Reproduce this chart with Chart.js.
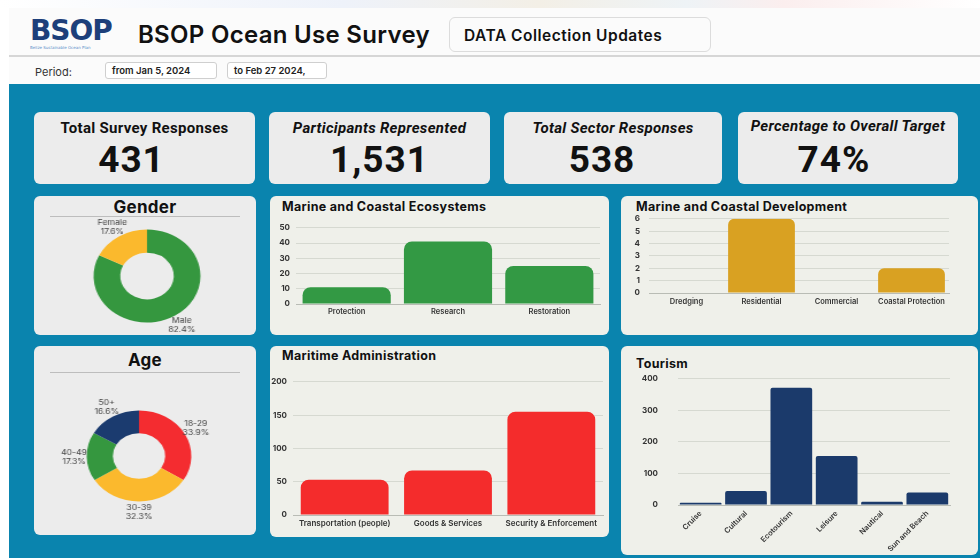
<!DOCTYPE html>
<html>
<head>
<meta charset="utf-8">
<script src="https://cdn.jsdelivr.net/npm/chart.js@4.4.1/dist/chart.umd.min.js"></script>
<style>
  * { box-sizing: border-box; }
  body { margin: 0; width: 980px; height: 558px; overflow: hidden; background: #fff; font-family: "Inter", "Lato", sans-serif; position: relative; }
  .abs { position: absolute; }
  .banner { left: 0; top: 0; width: 980px; height: 8px; background: linear-gradient(90deg, #fff 0%, #eef2fa 35%, #f3efe6 55%, #eef3f6 70%, #fbeeee 80%, #fff 100%); }
  .header { left: 9px; top: 8px; width: 971px; height: 76px; background: #fbfbfb; }
  .hline { left: 9px; top: 55px; width: 971px; height: 2px; background: #d6d6d6; }
  .logo { left: 30px; top: 16px; width: 84px; height: 38px; }
  .logo .big { font: 900 28px "DejaVu Sans", sans-serif; color: #1d3f7a; letter-spacing: -1px; line-height: 29px; }
  .logo .small { font: 4px "DejaVu Sans", sans-serif; color: #5b8fc9; }
  .title { left: 138px; top: 20px; font: 600 24px "Inter", sans-serif; color: #111; letter-spacing: 0.3px; }
  .updbox { left: 449px; top: 17px; width: 262px; height: 35px; border: 1px solid #dcdcdc; border-radius: 6px; background: #fbfbfb; font: 600 15.5px "Inter", sans-serif; color: #111; padding: 8px 0 0 14px; letter-spacing: 0.5px; }
  .period { left: 35px; top: 65px; font: 11px "Inter", sans-serif; color: #333; }
  .pbox { top: 62px; height: 17px; border: 1px solid #cfcfcf; border-radius: 3px; font: 600 9.5px "Inter", sans-serif; color: #222; padding: 2px 0 0 6px; background: #fff; }
  .blue { left: 9px; top: 84px; width: 971px; height: 474px; background: #0a84ae; }
  .card { border-radius: 6px; background: #ececec; }
  .gcard { background: #eff0ea; }
  .kpil { font: 700 15px "Roboto", sans-serif; color: #111; text-align: center; width: 100%; position: absolute; top: 7px; letter-spacing: 0.3px; }
  .kpiv { font: 700 37px "Roboto", sans-serif; color: #111; text-align: center; width: 100%; position: absolute; top: 26px; letter-spacing: 1px; }
  .ctitle { font: 700 12.5px "Inter", sans-serif; color: #111; position: absolute; letter-spacing: 0.3px; }
  .dtitle { font: 700 17px "Inter", sans-serif; color: #111; text-align: center; width: 100%; position: absolute; letter-spacing: 0.3px; }
  .dline { position: absolute; left: 16px; right: 16px; height: 1px; background: #bdbdbd; }
  canvas { position: absolute; }
  .stretch { position: absolute; transform: scaleX(1.15); transform-origin: center; }
</style>
</head>
<body>
<div class="abs banner"></div>
<div class="abs header"></div>
<div class="abs hline"></div>
<div class="abs logo"><div class="big">BSOP</div><div class="small">Belize Sustainable Ocean Plan</div></div>
<div class="abs title">BSOP Ocean Use Survey</div>
<div class="abs updbox">DATA Collection Updates</div>
<div class="abs period">Period:</div>
<div class="abs pbox" style="left:105px;width:112px;">from Jan 5, 2024</div>
<div class="abs pbox" style="left:227px;width:100px;">to Feb 27 2024,</div>
<div class="abs blue"></div>

<div class="abs card" style="left:34px;top:112px;width:221px;height:72px;"><div class="kpil">Total Survey Responses</div><div class="kpiv" style="left:-13px">431</div></div>
<div class="abs card" style="left:269px;top:112px;width:221px;height:72px;"><div class="kpil" style="font-style:italic">Participants Represented</div><div class="kpiv">1,531</div></div>
<div class="abs card" style="left:504px;top:112px;width:218px;height:72px;"><div class="kpil" style="font-style:italic">Total Sector Responses</div><div class="kpiv" style="left:-11px">538</div></div>
<div class="abs card" style="left:738px;top:112px;width:220px;height:72px;"><div class="kpil" style="font-style:italic;top:5px">Percentage to Overall Target</div><div class="kpiv" style="left:-14px">74%</div></div>

<div class="abs card" style="left:34px;top:196px;width:222px;height:139px;"><div class="dtitle" style="top:1px">Gender</div><div class="dline" style="top:20px"></div></div>
<div class="abs card" style="left:34px;top:346px;width:222px;height:189px;"><div class="dtitle" style="top:4px">Age</div><div class="dline" style="top:26px"></div></div>

<div class="abs card gcard" style="left:270px;top:196px;width:339px;height:139px;"><div class="ctitle" style="left:12px;top:3px">Marine and Coastal Ecosystems</div></div>
<div class="abs card gcard" style="left:621px;top:196px;width:357px;height:139px;"><div class="ctitle" style="left:15px;top:3px">Marine and Coastal Development</div></div>
<div class="abs card gcard" style="left:270px;top:346px;width:339px;height:191px;"><div class="ctitle" style="left:12px;top:2px">Maritime Administration</div></div>
<div class="abs card gcard" style="left:621px;top:346px;width:357px;height:209px;"><div class="ctitle" style="left:15px;top:10px">Tourism</div></div>

<div class="stretch" style="left:57px;top:211px;width:180px;height:130px;"><canvas id="gender" width="180" height="130" style="left:0;top:0;"></canvas></div>
<div class="stretch" style="left:49px;top:386px;width:180px;height:140px;"><canvas id="age" width="180" height="140" style="left:0;top:0;"></canvas></div>
<canvas id="eco" width="330" height="103" style="left:276px;top:217px;"></canvas>
<canvas id="dev" width="340" height="102" style="left:632px;top:205px;"></canvas>
<canvas id="admin" width="338" height="160" style="left:270px;top:371px;"></canvas>
<canvas id="tourism" width="330" height="197" style="left:630px;top:354px;"></canvas>

<script>
const genderLabels = ['Male', 'Female'];
const genderValues = [82.4, 17.6];
const ageLabels = ['18-29', '30-39', '40-49', '50+'];
const ageValues = [33.9, 32.3, 17.3, 16.6];
const ecoLabels = ['Protection', 'Research', 'Restoration'];
const ecoValues = [11, 41, 25];
const devLabels = ['Dredging', 'Residential', 'Commercial', 'Coastal Protection'];
const devValues = [0, 6, 0, 2];
const adminLabels = ['Transportation (people)', 'Goods & Services', 'Security & Enforcement'];
const adminValues = [53, 67, 155];
const tourismLabels = ['Cruise', 'Cultural', 'Ecotourism', 'Leisure', 'Nautical', 'Sun and Beach'];
const tourismValues = [7, 44, 372, 155, 10, 40];

Chart.defaults.font.family = 'Inter, Lato, sans-serif';
Chart.defaults.color = '#222';

// labels drawn outside each donut slice
const outsideLabels = {
    id: 'outsideLabels',
    afterDatasetsDraw(chart, args, opts) {
        const ctx = chart.ctx;
        const meta = chart.getDatasetMeta(0);
        ctx.save();
        ctx.font = '7.5px Inter, sans-serif';
        ctx.fillStyle = '#444';
        ctx.textAlign = 'center';
        ctx.textBaseline = 'middle';
        meta.data.forEach((arc, i) => {
            const mid = (arc.startAngle + arc.endAngle) / 2;
            const r = arc.outerRadius + opts.offset;
            const x = arc.x + Math.cos(mid) * r;
            const y = arc.y + Math.sin(mid) * r;
            const v = chart.data.datasets[0].data[i];
            ctx.fillText(chart.data.labels[i], x, y - 4.5);
            ctx.fillText(v.toFixed(1) + '%', x, y + 4.5);
        });
        ctx.restore();
    }
};

function donut(id, labels, values, colors, offset, pad) {
    new Chart(document.getElementById(id), {
        type: 'doughnut',
        data: { labels: labels, datasets: [{ data: values, backgroundColor: colors, borderWidth: 0 }] },
        options: {
            responsive: false,
            animation: false,
            cutout: '50%',
            layout: { padding: pad },
            plugins: { legend: { display: false }, tooltip: { enabled: false }, outsideLabels: { offset: offset } }
        },
        plugins: [outsideLabels]
    });
}

donut('gender', genderLabels, genderValues, ['#35973f', '#fbb92d'], 11, { top: 18.5, bottom: 18.5, left: 20, right: 20 });
donut('age', ageLabels, ageValues, ['#f42c30', '#fbb92d', '#35973f', '#1b3b6f'], 11, { top: 24.5, bottom: 24.5, left: 20, right: 20 });

function bars(id, labels, values, color, cfg) {
    new Chart(document.getElementById(id), {
        type: 'bar',
        data: { labels: labels, datasets: [{ data: values, backgroundColor: color, borderRadius: cfg.radius, borderSkipped: 'bottom', barPercentage: cfg.bar, categoryPercentage: 1 }] },
        options: {
            responsive: false,
            animation: false,
            layout: { padding: cfg.pad },
            plugins: { legend: { display: false }, tooltip: { enabled: false } },
            scales: {
                x: {
                    grid: { display: false, drawTicks: false },
                    border: { color: '#b9bcb5', width: 1 },
                    ticks: { font: { size: cfg.xfont, weight: '600' }, color: '#333', padding: cfg.xpad, autoSkip: false,
                             minRotation: cfg.rot, maxRotation: cfg.rot },
                    afterFit: s => { s.height = cfg.xh; }
                },
                y: {
                    min: 0, max: cfg.max,
                    grid: { color: '#d6d9d1', drawTicks: false },
                    border: { display: false },
                    ticks: { stepSize: cfg.step, autoSkip: false, font: { size: 8, weight: '700' }, color: '#333', padding: cfg.ypad },
                    afterFit: s => { s.width = cfg.yw; }
                }
            }
        }
    });
}

bars('eco', ecoLabels, ecoValues, '#339944', { radius: 8, bar: 0.87, max: 50, step: 10, yw: 20, xh: 16, xfont: 7.5, xpad: 3, rot: 0, ypad: 6, pad: { top: 6, right: 6 } });
bars('dev', devLabels, devValues, '#d9a122', { radius: 6, bar: 0.89, max: 6, step: 1, yw: 17, xh: 14, xfont: 7.5, xpad: 4, rot: 0, ypad: 9, pad: { top: 6, right: 23 } });
bars('admin', adminLabels, adminValues, '#f42c2c', { radius: 8, bar: 0.85, max: 200, step: 50, yw: 23, xh: 16, xfont: 8, xpad: 4, rot: 0, ypad: 6, pad: { top: 8, right: 5 } });
bars('tourism', tourismLabels, tourismValues, '#1b3a6b', { radius: 2, bar: 0.92, max: 400, step: 100, yw: 48, xh: 46, xfont: 7.5, xpad: 4, rot: 45, ypad: 20, pad: { top: 8, right: 10 } });
</script>
</body>
</html>
